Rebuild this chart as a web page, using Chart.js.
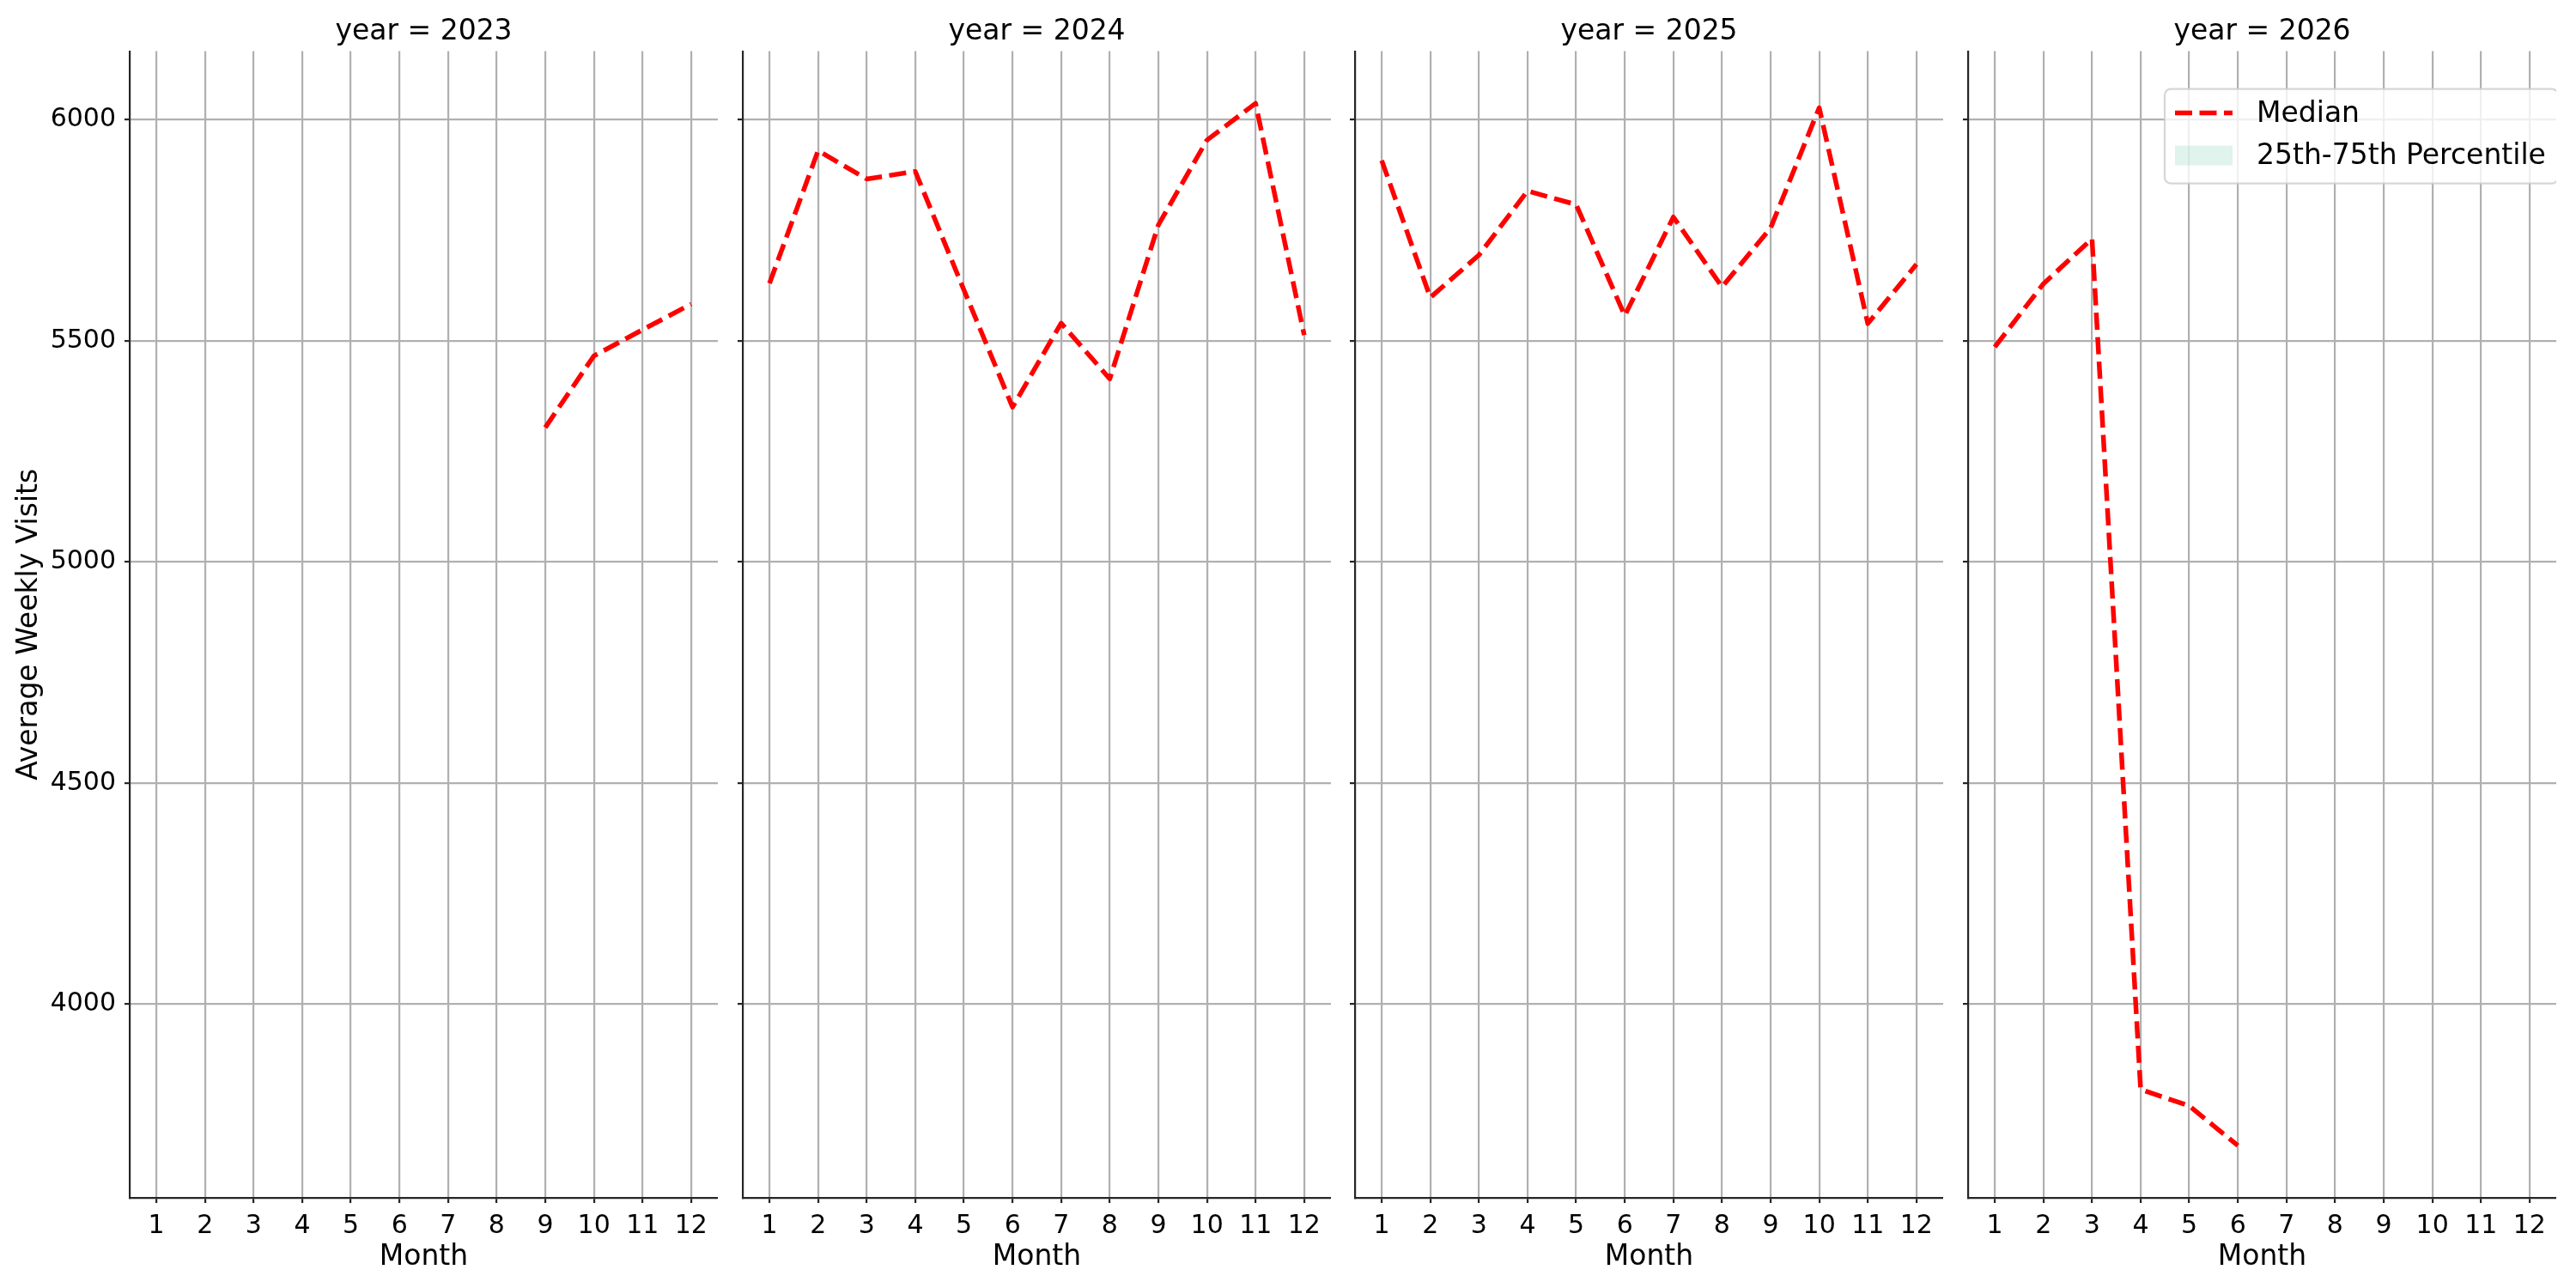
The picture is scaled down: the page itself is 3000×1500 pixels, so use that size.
<!DOCTYPE html>
<html>
<head>
<meta charset="utf-8">
<script src="https://cdn.jsdelivr.net/npm/chart.js@4.4.0/dist/chart.umd.min.js"></script>
<style>
  html, body { margin: 0; padding: 0; background: #fff; }
  #fig { position: relative; width: 3000px; height: 1500px; }
  #fig canvas { position: absolute; top: 0; }
</style>
</head>
<body>
<div id="fig">
  <canvas id="p0" width="836" height="1500" style="left:0px"></canvas>
  <canvas id="p1" width="700" height="1500" style="left:850px"></canvas>
  <canvas id="p2" width="700" height="1500" style="left:1563px"></canvas>
  <canvas id="p3" width="700" height="1500" style="left:2277px"></canvas>
</div>
<script>
const months = [1, 2, 3, 4, 5, 6, 7, 8, 9, 10, 11, 12];
const years = [2023, 2024, 2025, 2026];
const median2023 = [null, null, null, null, null, null, null, null, 5304, 5466, 5525, 5583];
const median2024 = [5630, 5930, 5866, 5883, 5615, 5350, 5540, 5414, 5762, 5954, 6037, 5513];
const median2025 = [5908, 5598, 5694, 5839, 5808, 5557, 5780, 5622, 5755, 6027, 5539, 5673];
const median2026 = [5486, 5629, 5731, 3807, 3770, 3680, null, null, null, null, null, null];
const yTicks = [4000, 4500, 5000, 5500, 6000];
const legendLabels = ['Median', '25th-75th Percentile'];

const series = [median2023, median2024, median2025, median2026];
const yAxisWidth = [151, 15, 15, 15];
const FONT = '"DejaVu Sans", sans-serif';
const DARK = '#262626';
const GRID = '#b0b0b0';

// legend sits inside the last panel, top right
const cornerLegend = {
  id: 'cornerLegend',
  afterDraw(chart) {
    const ctx = chart.ctx, a = chart.chartArea;
    const w = 458, h = 110;
    const left = a.right + 2 - w, top = a.top + 44;
    ctx.save();
    ctx.beginPath();
    ctx.roundRect(left, top, w, h, 7);
    ctx.fillStyle = 'rgba(255,255,255,0.8)';
    ctx.fill();
    ctx.strokeStyle = 'rgba(204,204,204,0.8)';
    ctx.lineWidth = 2.2;
    ctx.stroke();

    ctx.strokeStyle = '#ff0000';
    ctx.lineWidth = 5.5;
    ctx.setLineDash([20, 8.5]);
    ctx.beginPath();
    ctx.moveTo(left + 12, top + 28);
    ctx.lineTo(left + 79, top + 28);
    ctx.stroke();
    ctx.setLineDash([]);

    ctx.fillStyle = 'rgba(102,194,165,0.2)';
    ctx.fillRect(left + 12, top + 66, 67, 23);

    ctx.fillStyle = '#000';
    ctx.font = '33px ' + FONT;
    ctx.textBaseline = 'middle';
    ctx.fillText(legendLabels[0], left + 107, top + 30);
    ctx.fillText(legendLabels[1], left + 107, top + 79);
    ctx.restore();
  }
};

function makePanel(i) {
  const first = i === 0;
  new Chart(document.getElementById('p' + i), {
    type: 'line',
    data: {
      datasets: [{
        label: legendLabels[0],
        data: months.map((m, k) => ({ x: m, y: series[i][k] })),
        borderColor: '#ff0000',
        borderWidth: 5.5,
        borderDash: [20, 8.5],
        borderJoinStyle: 'round',
        pointRadius: 0,
        fill: false,
        tension: 0,
        spanGaps: false
      }]
    },
    options: {
      responsive: false,
      animation: false,
      devicePixelRatio: 1,
      layout: { padding: 0 },
      plugins: {
        legend: { display: false },
        tooltip: { enabled: false },
        title: {
          display: true,
          text: 'year = ' + years[i],
          fullSize: false,
          color: '#000',
          font: { family: FONT, size: 33, weight: 'normal' },
          padding: { top: 18, bottom: 2 }
        }
      },
      scales: {
        x: {
          type: 'linear',
          min: 0.45,
          max: 12.55,
          afterBuildTicks: ax => { ax.ticks = months.map(v => ({ value: v })); },
          afterFit: ax => { ax.height = 105; },
          ticks: {
            color: '#000',
            font: { family: FONT, size: 30 },
            padding: 9,
            autoSkip: false,
            maxRotation: 0,
            callback: v => String(v)
          },
          grid: { color: GRID, lineWidth: 2.2, tickColor: DARK, tickLength: 6, tickWidth: 2.2 },
          border: { color: DARK, width: 2.2 },
          title: {
            display: true,
            text: 'Month',
            color: '#000',
            font: { family: FONT, size: 33 },
            padding: { top: 0, bottom: 16 }
          }
        },
        y: {
          min: 3562,
          max: 6155,
          afterBuildTicks: ax => { ax.ticks = yTicks.map(v => ({ value: v })); },
          afterFit: ax => { ax.width = yAxisWidth[i]; },
          ticks: {
            display: first,
            color: '#000',
            font: { family: FONT, size: 30 },
            padding: 10,
            callback: v => String(v)
          },
          grid: { color: GRID, lineWidth: 2.2, tickColor: DARK, tickLength: 6, tickWidth: 2.2 },
          border: { color: DARK, width: 2.2 },
          title: {
            display: first,
            text: 'Average Weekly Visits',
            color: '#000',
            font: { family: FONT, size: 33 },
            padding: { top: 15, bottom: 0 }
          }
        }
      }
    },
    plugins: i === 3 ? [cornerLegend] : []
  });
}

years.forEach((y, i) => makePanel(i));
</script>
</body>
</html>
